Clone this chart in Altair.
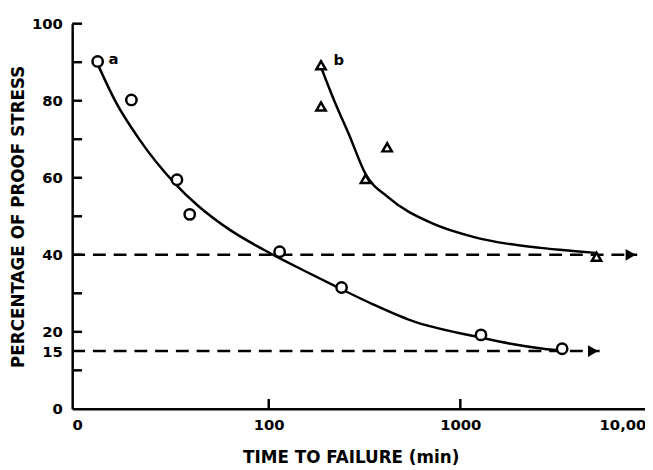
import altair as alt
import pandas as pd

# ---- data ----
circ_x = [12.8, 19.2, 33.2, 38.7, 114, 240, 1282, 3400]
circ_y = [90.2, 80.2, 59.5, 50.5, 40.8, 31.5, 19.2, 15.6]

tri_x = [187.5, 187.5, 415, 320, 5140]
tri_y = [89.2, 78.5, 67.9, 59.7, 39.5]

curve_a_x = [12.8, 15.9, 20.9, 32.4, 42.6, 63.0, 94.2, 157, 232, 348, 579, 676, 1225, 1832, 2710, 3320]
curve_a_y = [89.5, 79.7, 70.3, 58.5, 52.8, 46.4, 41.3, 35.6, 31.4, 27.2, 22.6, 21.6, 18.7, 16.9, 15.6, 15.1]

curve_b_x = [187.5, 224, 262, 320, 421, 710, 1180, 1746, 2618, 3873, 5080]
curve_b_y = [88.7, 79.0, 71.3, 61.0, 54.9, 48.2, 44.6, 42.9, 41.8, 41.0, 40.5]

limit_y = [40, 15]
limit_start = [9.424, 9.424]
limit_end = [8380, 5335]
arrow_x = [7750, 4930]

curve_labels = ["a", "b"]
curve_label_x = [15.5, 232]
curve_label_y = [90.8, 90.5]

ytick_vals = [10, 20, 30, 40, 50, 60, 70, 80, 90, 100]
xtick_vals = [100, 1000]
far_label = ["10,000"]
far_label_x = [10000]

# ---- scales / axes ----
W, H = 580, 390
FONT = "DejaVu Sans"
xs = alt.Scale(type="log", domain=[9.424, 9203], nice=False)
ys = alt.Scale(domain=[0, 100], nice=False)

x_axis = alt.Axis(
    values=[10, 100, 1000],
    labelExpr="datum.value == 10 ? '0' : format(datum.value, 'd')",
    ticks=False, grid=False, domainWidth=2.5, domainColor="black",
    labelFont=FONT, labelFontWeight="bold", labelFontSize=15, labelColor="black",
    labelPadding=9, labelFlush=False,
    title="TIME TO FAILURE (min)", titleFont=FONT, titleFontSize=17,
    titleFontWeight="bold", titleColor="black", titlePadding=17, titleX=282,
)
y_axis = alt.Axis(
    values=[0, 15, 20, 40, 60, 80, 100],
    ticks=False, grid=False, domainWidth=2.5, domainColor="black",
    labelFont=FONT, labelFontWeight="bold", labelFontSize=15, labelColor="black",
    labelPadding=10,
    title="PERCENTAGE OF PROOF STRESS", titleFont=FONT, titleFontSize=17,
    titleFontWeight="bold", titleColor="black", titlePadding=4,
)


def X(f):
    return alt.X(f, type="quantitative", scale=xs, axis=x_axis)


def Y(f):
    return alt.Y(f, type="quantitative", scale=ys, axis=y_axis)


df_c = pd.DataFrame({"x": circ_x, "y": circ_y})
df_t = pd.DataFrame({"x": tri_x, "y": tri_y})
df_a = pd.DataFrame({"x": curve_a_x, "y": curve_a_y})
df_b = pd.DataFrame({"x": curve_b_x, "y": curve_b_y})
df_lim = pd.DataFrame({"y": limit_y, "x": limit_start, "x2": limit_end, "ax": arrow_x})
df_lab = pd.DataFrame({"t": curve_labels, "x": curve_label_x, "y": curve_label_y})
df_yt = pd.DataFrame({"v": ytick_vals})
df_xt = pd.DataFrame({"v": xtick_vals})
df_far = pd.DataFrame({"t": far_label, "x": far_label_x})

dashed = alt.Chart(df_lim).mark_rule(color="black", strokeWidth=2.5, strokeDash=[13, 8]).encode(
    x=X("x"), x2="x2:Q", y=Y("y"),
)
arrows = alt.Chart(df_lim).mark_point(shape="triangle-right", filled=True, color="black", size=140, opacity=1).encode(
    x=X("ax"), y=Y("y"),
)
line_a = alt.Chart(df_a).mark_line(color="black", strokeWidth=2.5, interpolate="monotone").encode(
    x=X("x"), y=Y("y")
)
line_b = alt.Chart(df_b).mark_line(color="black", strokeWidth=2.5, interpolate="monotone").encode(
    x=X("x"), y=Y("y")
)
circles = alt.Chart(df_c).mark_point(shape="circle", filled=True, fill="white", stroke="black",
                                     strokeWidth=2.5, size=110, opacity=1).encode(
    x=X("x"), y=Y("y")
)
tris = alt.Chart(df_t).mark_point(shape="triangle-up", filled=True, fill="white", stroke="black",
                                  strokeWidth=2.5, size=90, opacity=1).encode(
    x=X("x"), y=Y("y")
)
labels = alt.Chart(df_lab).mark_text(font=FONT, fontWeight="bold", fontSize=15, color="black").encode(
    x=X("x"), y=Y("y"), text="t:N"
)
yticks = alt.Chart(df_yt).mark_rule(color="black", strokeWidth=2.5).encode(
    y=Y("v"), x=alt.value(0), x2=alt.value(10)
)
xticks = alt.Chart(df_xt).mark_rule(color="black", strokeWidth=2.5).encode(
    x=X("v"), y=alt.value(H), y2=alt.value(H - 10)
)
far = alt.Chart(df_far).mark_text(font=FONT, fontWeight="bold", fontSize=15, color="black",
                                  align="left", baseline="top", dx=-53, dy=9).encode(
    x=X("x"), y=alt.value(H), text="t:N"
)

chart = alt.layer(dashed, line_a, line_b, arrows, circles, tris, labels, yticks, xticks, far).properties(
    width=W, height=H,
    autosize=alt.AutoSizeParams(type="none"),
    padding={"left": 65, "top": 13, "right": 0, "bottom": 57},
    background="white",
).configure_view(strokeWidth=0)

chart.save("out.html", embed_options={"renderer": "svg", "actions": False})
